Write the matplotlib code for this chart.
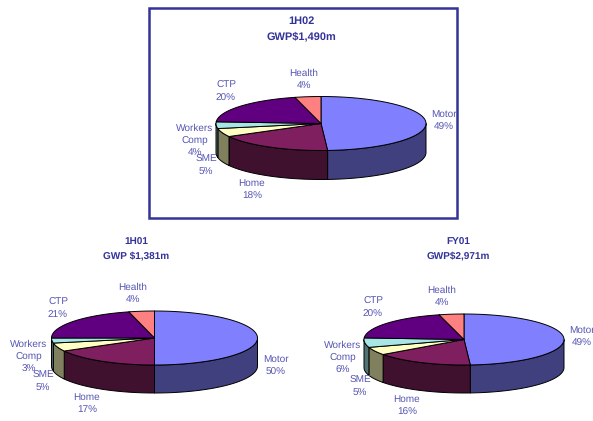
import numpy as np
import matplotlib
matplotlib.use('Agg')
import matplotlib.pyplot as plt
from matplotlib.patches import Polygon, Rectangle

plt.rcParams['font.family'] = ['Liberation Sans', 'DejaVu Sans']
plt.rcParams['text.hinting'] = 'none'
plt.rcParams['text.hinting_factor'] = 1

# Data
categories = ['Motor', 'Home', 'SME', 'Workers\nComp', 'CTP', 'Health']
values_1h02 = [49, 18, 5, 4, 20, 4]
values_1h01 = [50, 17, 5, 3, 21, 4]
values_fy01 = [49, 16, 5, 6, 20, 4]
top_colors = ['#8080ff', '#7f1f5f', '#ffffc4', '#a6e6e6', '#600080', '#ff8080']
side_colors = ['#40407f', '#40102f', '#80805f', '#507373', '#300040', '#804040']

BLUE = '#5656b4'
DARK = '#333399'


def ring(cx, cy, rx, ry, a0, a1):
    t = np.radians(np.linspace(a0, a1, 80))
    return np.column_stack([cx + rx * np.cos(t), cy - ry * np.sin(t)])


def draw_pie(ax, values, cx, cy, rx, ry, depth):
    fracs = np.array(values) / sum(values)
    ends = 90 - 360 * np.cumsum(fracs)
    starts = np.concatenate([[90], ends[:-1]])
    # walls first, only the part facing the viewer
    for a0, a1, col in zip(starts, ends, side_colors):
        hi, lo = min(a0, 0), max(a1, -180)
        if hi > lo:
            arc = ring(cx, cy, rx, ry, hi, lo)
            pts = np.vstack([arc, arc[::-1] + [0, depth]])
            ax.add_patch(Polygon(pts, fc=col, ec='black', lw=0.7, joinstyle='round'))
    for a0, a1, col in zip(starts, ends, top_colors):
        pts = np.vstack([[cx, cy], ring(cx, cy, rx, ry, a0, a1)])
        ax.add_patch(Polygon(pts, fc=col, ec='black', lw=0.7, joinstyle='round'))


def draw_labels(ax, values, spots, clip=None):
    for name, val, (x, y) in zip(categories, values, spots):
        t = ax.text(x, y, '{}\n{}%'.format(name, val), color=BLUE, fontsize=7.4,
                    ha='center', va='center', linespacing=1.42, zorder=5)
        if clip is not None:
            t.set_clip_path(clip)


fig = plt.figure(figsize=(5.93, 4.21), dpi=100)
ax = fig.add_axes([0, 0, 1, 1])
ax.set_xlim(0, 593)
ax.set_ylim(421, 0)
ax.axis('off')

# Frame round the top chart
frame = Rectangle((149, 8), 307.5, 210, fc='white', ec=DARK, lw=1.8, zorder=1)
ax.add_patch(frame)

# 1H02
ax.text(301, 21, '1H02', color=DARK, fontsize=7.8, fontweight='bold', ha='center', va='center')
ax.text(301, 36, 'GWP$1,490m', color=DARK, fontsize=7.8, fontweight='bold', ha='center', va='center')
draw_pie(ax, values_1h02, 321, 123.5, 105, 27, 29)
draw_labels(ax, values_1h02,
            [(444, 121), (252, 190), (206, 166), (195, 141), (226, 92), (304, 80)],
            clip=frame)

# 1H01
ax.text(136, 242, '1H01', color=DARK, fontsize=7.4, fontweight='bold', ha='center', va='center')
ax.text(136, 256, 'GWP $1,381m', color=DARK, fontsize=7.4, fontweight='bold', ha='center', va='center')
draw_pie(ax, values_1h01, 154.5, 338, 103, 27, 28)
draw_labels(ax, values_1h01,
            [(276, 366), (87, 404), (43, 382), (29, 357), (58, 309), (133, 294)])

# FY01
ax.text(458, 242, 'FY01', color=DARK, fontsize=7.4, fontweight='bold', ha='center', va='center')
ax.text(458, 256, 'GWP$2,971m', color=DARK, fontsize=7.4, fontweight='bold', ha='center', va='center')
draw_pie(ax, values_fy01, 464, 339.5, 100, 25.5, 28)
draw_labels(ax, values_fy01,
            [(582, 337), (407, 406), (360, 387), (343, 358), (373, 308), (442, 297)])

fig.savefig('out.png', dpi=100)
